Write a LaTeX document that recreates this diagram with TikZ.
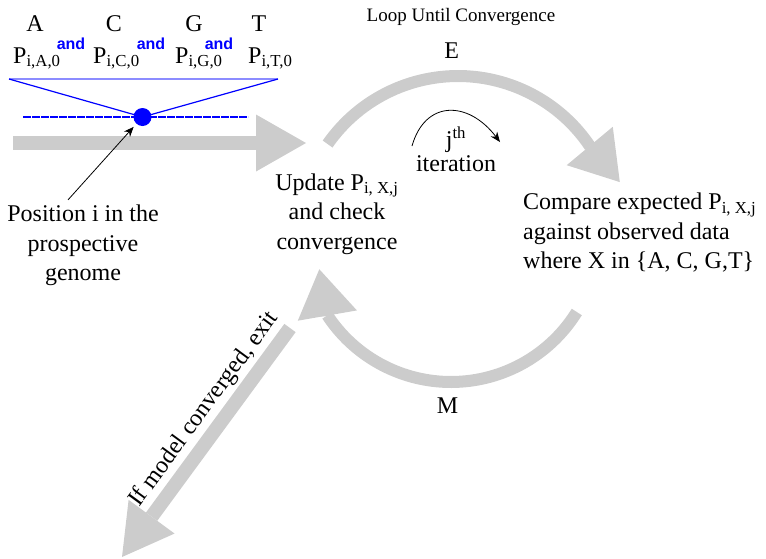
\documentclass[tikz,border=0pt]{standalone}
\usepackage{fontspec}
\setmainfont{Liberation Serif}
\setsansfont{Liberation Sans}
\usetikzlibrary{arrows.meta, positioning, calc}
\definecolor{grisFlecha}{HTML}{CCCCCC}
\definecolor{azulMarca}{HTML}{0000FF}

\begin{document}
\begin{tikzpicture}[x=1pt, y=-1pt, >=Latex,
        font=\fontsize{24}{29.5}\selectfont,
        tx/.style={inner sep=0pt, align=center},
        lbl/.style={inner sep=0pt, anchor=base},
        conj/.style={lbl, font=\sffamily\bfseries\fontsize{16}{16}\selectfont, text=azulMarca},
        gruesa/.style={grisFlecha, line width=14pt, -{Triangle[width=57pt, length=50pt, line width=0pt]}},
        arco/.style={grisFlecha, line width=12pt, -{Triangle[width=60pt, length=47pt, line width=0pt]}},
        fino/.style={azulMarca!45, line width=1.3pt},
        ptr/.style={-{Stealth[length=10pt, width=8pt]}, line width=0.8pt}]
        \useasboundingbox (0,0) rectangle (766,558);

        \node[lbl] (tA) at (35,31) {A};
        \node[lbl] (tC) at (114,31) {C};
        \node[lbl] (tG) at (194,31) {G};
        \node[lbl] (tT) at (259,31) {T};
        \node[lbl, anchor=base west] (pA) at (13,63) {P\textsubscript{i,A,0}};
        \node[lbl, anchor=base west] (pC) at (93,63) {P\textsubscript{i,C,0}};
        \node[lbl, anchor=base west] (pG) at (175,63) {P\textsubscript{i,G,0}};
        \node[lbl, anchor=base west] (pT) at (248,63) {P\textsubscript{i,T,0}};
        \node[conj] (y1) at (71,49) {and};
        \node[conj] (y2) at (151,49) {and};
        \node[conj] (y3) at (219,49) {and};

        \node[circle, fill=azulMarca, minimum size=18pt, inner sep=0pt] (dot) at (142.5,117) {};
        \coordinate (bl) at (9,79);
        \coordinate (br) at (278,79);
        \coordinate (dl) at (23,117);
        \coordinate (dr) at (248,117);
        \draw[fino] (bl) -- (br);
        \draw[azulMarca, line width=1.2pt] (bl) -- (dot.center) -- (br);
        \draw[azulMarca, line width=1.3pt, dash pattern=on 8pt off 1pt] (dl) -- (dr);

        \coordinate (ent) at (13,143);
        \coordinate (entTip) at (306,143);
        \draw[gruesa] (ent) -- (entTip);

        \node[tx] (pos) at (83,245.5) {Position i in the\\prospective\\genome};
        \draw[ptr, shorten >=4pt] ([xshift=-15pt, yshift=5pt]pos.north) -- (dot);

        \node[lbl, font=\fontsize{19}{22}\selectfont] (loop) at (461,21.7) {Loop Until Convergence};
        \node[lbl] (E) at (451.7,58.3) {E};
        \node[lbl] (M) at (447.5,413.3) {M};

        \node[tx] (upd) at (337,214) {Update P\textsubscript{i, X,j}\\and check\\convergence};
        \node[tx, align=left, anchor=west] (cmp) at (523,233) {Compare expected P\textsubscript{i, X,j}\\against observed data\\where X in \{A, C, G,T\}};

        \coordinate (cE) at (458,235);
        \coordinate (cM) at (451,234);
        \draw[arco] ($(cE)+(-145.1:159)$) arc[start angle=-145.1, end angle=-34, radius=159] -- ++(30,36);
        \draw[arco] ($(cM)+(31.8:148)$) arc[start angle=31.8, end angle=146.7, radius=148] -- ++(-8,-46);

        \node[tx, font=\fontsize{24}{24}\selectfont] (it) at (456,149) {j\textsuperscript{th}\\iteration};
        \coordinate (js) at (412,146);
        \coordinate (je) at (500,142);
        \draw[ptr] (js) .. controls (425,100) and (468,100) .. (je);

        \coordinate (sal) at (290,328);
        \coordinate (salTip) at (122,557);
        \draw[gruesa] (sal) -- node[sloped, above=3pt, pos=0.41, text=black, inner sep=0pt] {If model converged, exit} (salTip);
\end{tikzpicture}
\end{document}
